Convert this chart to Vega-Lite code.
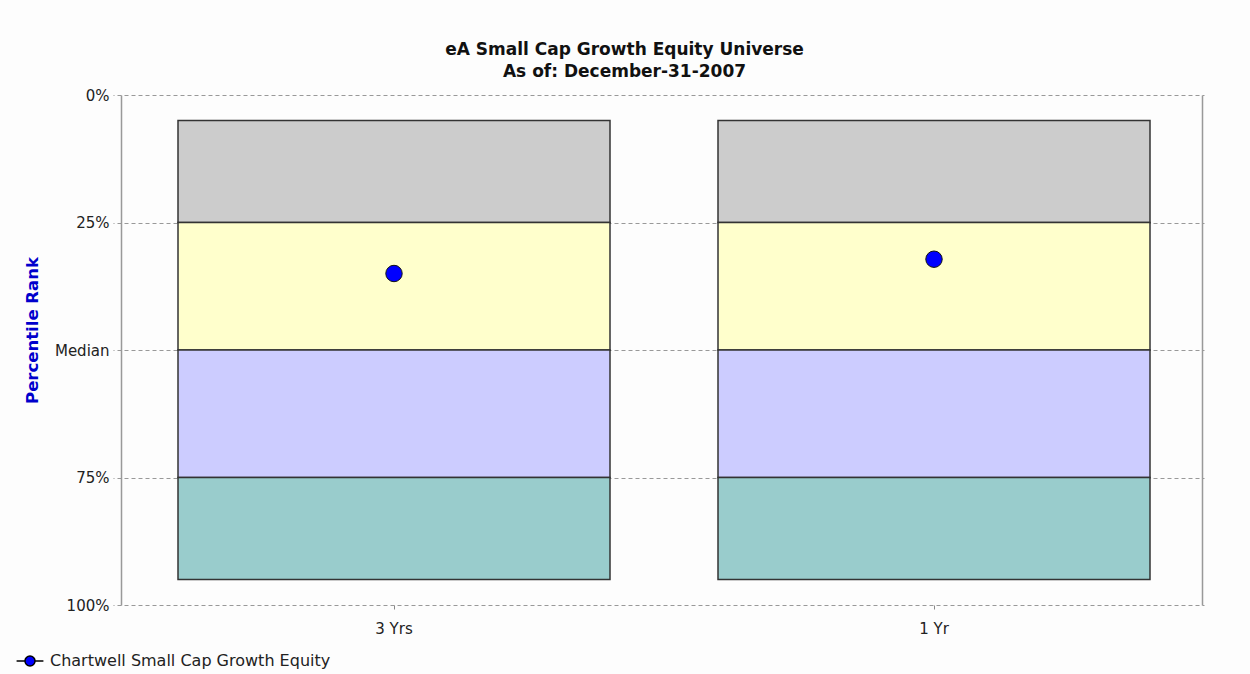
{
  "$schema": "https://vega.github.io/schema/vega-lite/v6.json",
  "autosize": "none",
  "width": 1081,
  "height": 510,
  "padding": {"left": 121, "top": 95, "right": 48, "bottom": 69},
  "background": "#fdfdfd",
  "title": {
    "text": ["eA Small Cap Growth Equity Universe", "As of: December-31-2007"],
    "font": "DejaVu Sans",
    "fontSize": 17,
    "fontWeight": "bold",
    "color": "#111111",
    "anchor": "middle",
    "frame": "group",
    "dx": -37,
    "offset": 7,
    "lineHeight": 22
  },
  "config": {
    "view": {"stroke": null},
    "font": "DejaVu Sans",
    "axis": {"labelFont": "DejaVu Sans", "labelFontSize": 15, "labelColor": "#222222"}
  },
  "datasets": {
    "bands": [
      {"period": "3 Yrs", "lo": 5, "hi": 25, "band": "5-25"},
      {"period": "3 Yrs", "lo": 25, "hi": 50, "band": "25-50"},
      {"period": "3 Yrs", "lo": 50, "hi": 75, "band": "50-75"},
      {"period": "3 Yrs", "lo": 75, "hi": 95, "band": "75-95"},
      {"period": "1 Yr", "lo": 5, "hi": 25, "band": "5-25"},
      {"period": "1 Yr", "lo": 25, "hi": 50, "band": "25-50"},
      {"period": "1 Yr", "lo": 50, "hi": 75, "band": "50-75"},
      {"period": "1 Yr", "lo": 75, "hi": 95, "band": "75-95"}
    ],
    "points": [
      {"period": "3 Yrs", "rank": 35, "series": "Chartwell Small Cap Growth Equity"},
      {"period": "1 Yr", "rank": 32.2, "series": "Chartwell Small Cap Growth Equity"}
    ]
  },
  "layer": [
    {
      "data": {"name": "bands"},
      "mark": {"type": "bar", "stroke": "#333333", "strokeWidth": 1.5},
      "encoding": {
        "x": {
          "field": "period", "type": "nominal", "sort": ["3 Yrs", "1 Yr"],
          "scale": {"paddingInner": 0.2, "paddingOuter": 0.1, "range": [3, 1083]},
          "axis": {"title": null, "labelAngle": 0, "domain": false, "tickSize": 4, "tickColor": "#888888", "labelPadding": 12}
        },
        "y": {
          "field": "lo", "type": "quantitative",
          "scale": {"domain": [0, 100], "reverse": true, "nice": false},
          "axis": {
            "title": "Percentile Rank",
            "titleFont": "DejaVu Sans",
            "titleFontSize": 16.5,
            "titleFontWeight": "bold",
            "titleColor": "#0000CC",
            "titleX": -89,
            "titleY": 235,
            "titleAngle": -90,
            "titleBaseline": "middle",
            "values": [0, 25, 50, 75, 100],
            "labelExpr": "datum.value == 50 ? 'Median' : datum.value + '%'",
            "labelPadding": 4,
            "tickSize": 8,
            "tickColor": "#999999",
            "tickDash": [4, 3],
            "domainColor": "#999999",
            "domainWidth": 1.5,
            "grid": true,
            "gridColor": "#999999",
            "gridDash": [4, 3],
            "gridWidth": 1
          }
        },
        "y2": {"field": "hi"},
        "fill": {
          "field": "band", "type": "nominal",
          "scale": {"domain": ["5-25", "25-50", "50-75", "75-95"], "range": ["#CCCCCC", "#FFFFCC", "#CCCCFF", "#99CCCC"]},
          "legend": null
        }
      }
    },
    {
      "data": {"name": "points"},
      "mark": {"type": "point", "filled": true, "shape": "circle", "size": 270, "stroke": "#111111", "strokeWidth": 1, "opacity": 1},
      "encoding": {
        "x": {"field": "period", "type": "nominal", "sort": ["3 Yrs", "1 Yr"]},
        "y": {
          "field": "rank", "type": "quantitative",
          "axis": {"orient": "right", "title": null, "labels": false, "ticks": false, "grid": false, "domainColor": "#999999", "domainWidth": 1.5}
        },
        "color": {
          "field": "series", "type": "nominal",
          "scale": {"range": ["#0000FF"]},
          "legend": {
            "title": null,
            "orient": "none",
            "legendX": -99,
            "legendY": 558,
            "symbolType": "M-2,0L-0.75,0M0.75,0L2,0M-0.75,0A0.75,0.75,0,1,1,0.75,0A0.75,0.75,0,1,1,-0.75,0Z",
            "symbolSize": 180,
            "symbolStrokeColor": "#000000",
            "symbolStrokeWidth": 1.5,
            "symbolFillColor": "#0000FF",
            "labelFont": "DejaVu Sans",
            "labelFontSize": 16,
            "labelColor": "#222222",
            "labelOffset": 12,
            "labelLimit": 400
          }
        }
      }
    }
  ],
  "resolve": {"axis": {"y": "independent"}}
}
